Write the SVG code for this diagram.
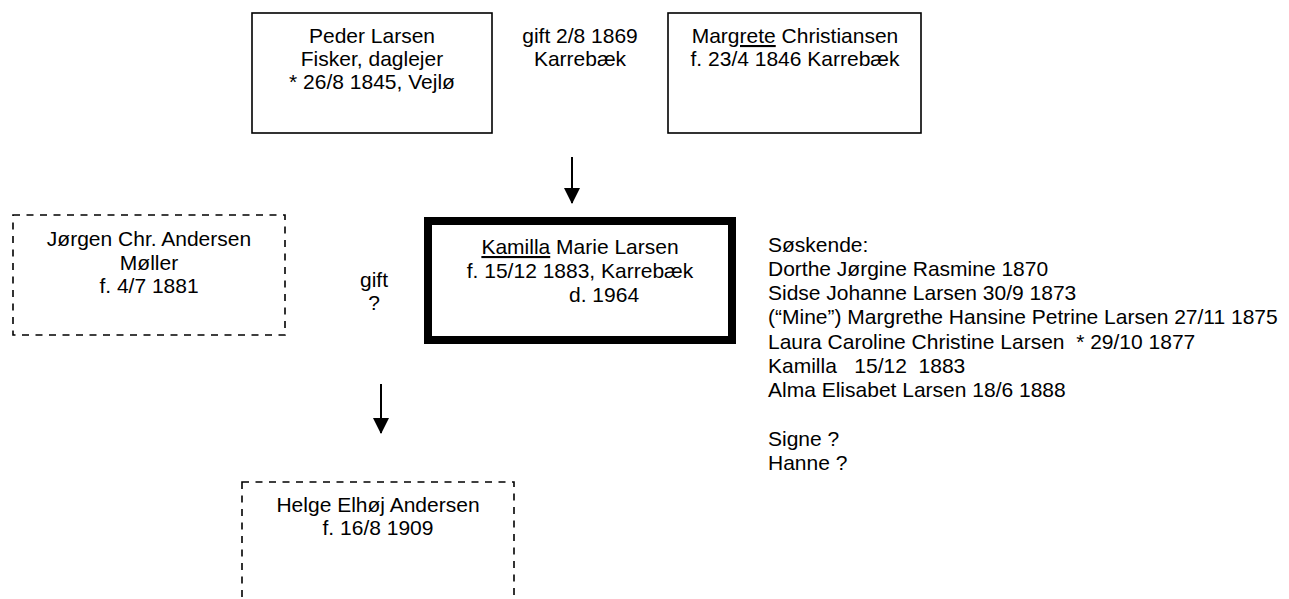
<svg xmlns="http://www.w3.org/2000/svg" width="1289" height="599" viewBox="0 0 1289 599">
<style>
  .t { font-family: "Liberation Sans", Arial, sans-serif; font-size: 21px; fill: #000; }
  .c { text-anchor: middle; }
  .box { fill: #fff; stroke: #000; stroke-width: 1.6; }
  .dash { fill: #fff; stroke: #000; stroke-width: 1.6; stroke-dasharray: 7 6.5; }
  .bold { fill: #fff; stroke: #000; stroke-width: 8; }
  .u { text-decoration: underline; }
  .conn { stroke: #000; stroke-width: 2; fill: none; }
</style>
<defs>
  <marker id="ah" markerUnits="userSpaceOnUse" markerWidth="16" markerHeight="16" refX="15" refY="8" orient="auto">
    <path d="M0,0 L16,8 L0,16 Z" fill="#000"/>
  </marker>
</defs>
<rect width="1289" height="599" fill="#fff"/>

<g id="peder">
  <rect class="box" x="252" y="13" width="240" height="120"/>
  <text class="t c" x="372" y="43">Peder Larsen</text>
  <text class="t c" x="372" y="66">Fisker, daglejer</text>
  <text class="t c" x="372" y="89">* 26/8 1845, Vejlø</text>
</g>

<g id="margrete">
  <rect class="box" x="668" y="13" width="253" height="120"/>
  <text class="t c" x="795" y="43">Mar<tspan class="u">grete</tspan> Christiansen</text>
  <text class="t c" x="795" y="66">f. 23/4 1846 Karrebæk</text>
</g>

<g id="kamilla">
  <rect class="bold" x="428" y="221" width="304" height="119"/>
  <text class="t c" x="580" y="254"><tspan class="u">Kamilla</tspan> Marie Larsen</text>
  <text class="t c" x="580" y="278">f. 15/12 1883, Karrebæk</text>
  <text class="t" x="569" y="302">d. 1964</text>
</g>

<g id="jorgen">
  <rect class="dash" x="13" y="215" width="272" height="120"/>
  <text class="t c" x="149" y="246">Jørgen Chr. Andersen</text>
  <text class="t c" x="149" y="270">Møller</text>
  <text class="t c" x="149" y="293">f. 4/7 1881</text>
</g>

<g id="helge">
  <rect class="dash" x="242" y="482" width="272" height="150"/>
  <text class="t c" x="378" y="512">Helge Elhøj Andersen</text>
  <text class="t c" x="378" y="535">f. 16/8 1909</text>
</g>

<g id="soskende">
  <text class="t" x="768" y="252" xml:space="preserve">Søskende:</text>
  <text class="t" x="768" y="276" xml:space="preserve">Dorthe Jørgine Rasmine 1870</text>
  <text class="t" x="768" y="300" xml:space="preserve">Sidse Johanne Larsen 30/9 1873</text>
  <text class="t" x="768" y="324" xml:space="preserve">(“Mine”) Margrethe Hansine Petrine Larsen 27/11 1875</text>
  <text class="t" x="768" y="349" xml:space="preserve">Laura Caroline Christine Larsen  * 29/10 1877</text>
  <text class="t" x="768" y="373" xml:space="preserve">Kamilla   15/12  1883</text>
  <text class="t" x="768" y="397" xml:space="preserve">Alma Elisabet Larsen 18/6 1888</text>
  <text class="t" x="768" y="446" xml:space="preserve">Signe ?</text>
  <text class="t" x="768" y="470" xml:space="preserve">Hanne ?</text>
</g>

<g id="connectors">
  <line class="conn" x1="572" y1="157" x2="572" y2="203" marker-end="url(#ah)"/>
  <line class="conn" x1="381" y1="384" x2="381" y2="433" marker-end="url(#ah)"/>
  <text class="t c" x="580" y="43">gift 2/8 1869</text>
  <text class="t c" x="580" y="66">Karrebæk</text>
  <text class="t c" x="374" y="287">gift</text>
  <text class="t c" x="374" y="310">?</text>
</g>
</svg>
